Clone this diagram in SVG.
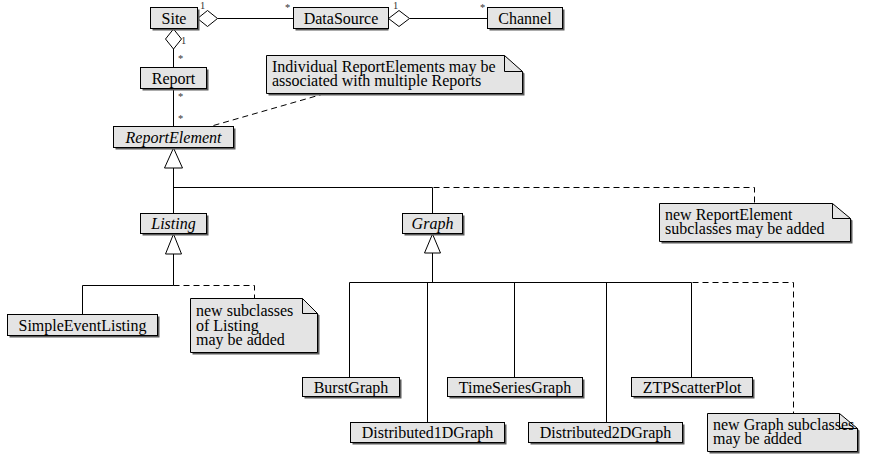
<svg xmlns="http://www.w3.org/2000/svg" width="879" height="455" viewBox="0 0 879 455" font-family="Liberation Serif, Times New Roman, serif">
  <style>
    .box { fill: #e4e4e4; stroke: #000; stroke-width: 1; }
    .shadow { fill: #5a5a5a; }
    .lbl { font-family: 'Liberation Serif', 'Times New Roman', serif; font-size: 16px; fill: #000; }
    .abs { font-style: italic; }
    .mult { font-family: 'Liberation Serif', 'Times New Roman', serif; font-size: 10.5px; fill: #333; }
    .line { fill: none; stroke: #000; stroke-width: 1; }
    .dash { fill: none; stroke: #000; stroke-width: 1; stroke-dasharray: 6 4; }
    .head { fill: #fff; stroke: #000; stroke-width: 1; }
  </style>

  <!-- connectors -->
  <g id="connectors">
    <!-- aggregations -->
    <line class="line" x1="217.5" y1="18.5" x2="293.5" y2="18.5"/>
    <polygon class="head" points="197.5,18.5 207.5,10.5 217.5,18.5 207.5,26.5"/>
    <line class="line" x1="409.5" y1="18.5" x2="487.5" y2="18.5"/>
    <polygon class="head" points="388.5,18.5 399,10.5 409.5,18.5 399,26.5"/>
    <line class="line" x1="173.5" y1="49" x2="173.5" y2="67.5"/>
    <polygon class="head" points="173.5,29 165.5,39 173.5,49 181.5,39"/>
    <line class="line" x1="173.5" y1="88.5" x2="173.5" y2="126.5"/>

    <!-- multiplicities -->
    <text class="mult" x="200" y="9">1</text>
    <text class="mult" x="285" y="11">*</text>
    <text class="mult" x="393" y="9">1</text>
    <text class="mult" x="480" y="11">*</text>
    <text class="mult" x="181" y="44">1</text>
    <text class="mult" x="178" y="62">*</text>
    <text class="mult" x="178" y="100">*</text>
    <text class="mult" x="178" y="122">*</text>

    <!-- ReportElement generalization -->
    <line class="line" x1="173.5" y1="168" x2="173.5" y2="213.5"/>
    <polyline class="line" points="173.5,187.5 432.5,187.5 432.5,213.5"/>
    <polyline class="dash" points="173.5,187.5 754.5,187.5 754.5,203.5"/>
    <polygon class="head" points="173.5,148 164.5,168 182.5,168"/>

    <!-- Listing generalization -->
    <line class="line" x1="173.5" y1="254" x2="173.5" y2="285.5"/>
    <polyline class="line" points="173.5,285.5 82.5,285.5 82.5,314.5"/>
    <polyline class="dash" points="173.5,285.5 254.5,285.5 254.5,298.5"/>
    <polygon class="head" points="173.5,234 165.5,254 181.5,254"/>

    <!-- Graph generalization -->
    <line class="line" x1="432.5" y1="253" x2="432.5" y2="282.5"/>
    <line class="line" x1="349.5" y1="282.5" x2="691.5" y2="282.5"/>
    <line class="line" x1="349.5" y1="282.5" x2="349.5" y2="377.5"/>
    <line class="line" x1="427.5" y1="282.5" x2="427.5" y2="422.5"/>
    <line class="line" x1="514.5" y1="282.5" x2="514.5" y2="377.5"/>
    <line class="line" x1="606.5" y1="282.5" x2="606.5" y2="422.5"/>
    <line class="line" x1="691.5" y1="282.5" x2="691.5" y2="377.5"/>
    <polyline class="dash" points="432.5,282.5 793.5,282.5 793.5,413.5"/>
    <polygon class="head" points="432.5,234 424.5,253 440.5,253"/>

    <!-- note anchor -->
    <line class="dash" x1="325" y1="93.5" x2="210" y2="126.5"/>
  </g>

  <!-- classes -->
  <g id="site">
    <rect class="shadow" x="152.5" y="9.5" width="47" height="21"/>
    <rect class="box" x="150.5" y="7.5" width="47" height="21"/>
    <text class="lbl" x="174" y="24" text-anchor="middle">Site</text>
  </g>
  <g id="datasource">
    <rect class="shadow" x="295.5" y="9.5" width="93" height="21"/>
    <rect class="box" x="293.5" y="7.5" width="95" height="21"/>
    <text class="lbl" x="341" y="24" text-anchor="middle">DataSource</text>
  </g>
  <g id="channel">
    <rect class="shadow" x="489.5" y="9.5" width="75" height="21"/>
    <rect class="box" x="487.5" y="7.5" width="75" height="21"/>
    <text class="lbl" x="525" y="24" text-anchor="middle">Channel</text>
  </g>
  <g id="report">
    <rect class="shadow" x="142.5" y="69.5" width="66" height="21"/>
    <rect class="box" x="140.5" y="67.5" width="66" height="21"/>
    <text class="lbl" x="173.5" y="84" text-anchor="middle">Report</text>
  </g>
  <g id="reportelement">
    <rect class="shadow" x="115.5" y="128.5" width="120" height="21"/>
    <rect class="box" x="113.5" y="126.5" width="120" height="21"/>
    <text class="lbl abs" x="173.5" y="143" text-anchor="middle">ReportElement</text>
  </g>
  <g id="listing">
    <rect class="shadow" x="142.5" y="215.5" width="66" height="20"/>
    <rect class="box" x="140.5" y="213.5" width="66" height="20"/>
    <text class="lbl abs" x="173.5" y="229" text-anchor="middle">Listing</text>
  </g>
  <g id="graph">
    <rect class="shadow" x="404.5" y="215.5" width="60" height="20"/>
    <rect class="box" x="402.5" y="213.5" width="60" height="20"/>
    <text class="lbl abs" x="432.5" y="229" text-anchor="middle">Graph</text>
  </g>
  <g id="simpleeventlisting">
    <rect class="shadow" x="9.5" y="316.5" width="150" height="21"/>
    <rect class="box" x="7.5" y="314.5" width="150" height="21"/>
    <text class="lbl" x="82.5" y="331" text-anchor="middle">SimpleEventListing</text>
  </g>
  <g id="burstgraph">
    <rect class="shadow" x="304.5" y="379.5" width="97" height="19"/>
    <rect class="box" x="302.5" y="377.5" width="97" height="19"/>
    <text class="lbl" x="351" y="393" text-anchor="middle">BurstGraph</text>
  </g>
  <g id="timeseriesgraph">
    <rect class="shadow" x="449.5" y="379.5" width="135" height="19"/>
    <rect class="box" x="447.5" y="377.5" width="135" height="19"/>
    <text class="lbl" x="515" y="393" text-anchor="middle">TimeSeriesGraph</text>
  </g>
  <g id="ztpscatterplot">
    <rect class="shadow" x="633.5" y="379.5" width="121" height="19"/>
    <rect class="box" x="631.5" y="377.5" width="121" height="19"/>
    <text class="lbl" x="692" y="393" text-anchor="middle">ZTPScatterPlot</text>
  </g>
  <g id="distributed1dgraph">
    <rect class="shadow" x="352.5" y="424.5" width="154" height="20"/>
    <rect class="box" x="350.5" y="422.5" width="154" height="20"/>
    <text class="lbl" x="427.5" y="438" text-anchor="middle">Distributed1DGraph</text>
  </g>
  <g id="distributed2dgraph">
    <rect class="shadow" x="530.5" y="424.5" width="154" height="20"/>
    <rect class="box" x="528.5" y="422.5" width="154" height="20"/>
    <text class="lbl" x="605.5" y="438" text-anchor="middle">Distributed2DGraph</text>
  </g>

  <!-- notes -->
  <g id="note-reports">
    <path class="shadow" d="M268.5,57.5 H506.5 L524.5,73.5 V95.5 H268.5 Z"/>
    <path class="box" d="M266.5,55.5 H504.5 L522.5,71.5 V93.5 H266.5 Z"/>
    <path class="line" d="M504.5,55.5 V71.5 H522.5"/>
    <text class="lbl" x="272" y="72">Individual ReportElements may be</text>
    <text class="lbl" x="272" y="86">associated with multiple Reports</text>
  </g>
  <g id="note-reportelement">
    <path class="shadow" d="M661.5,205.5 H834.5 L852.5,220.5 V243.5 H661.5 Z"/>
    <path class="box" d="M659.5,203.5 H832.5 L850.5,218.5 V241.5 H659.5 Z"/>
    <path class="line" d="M832.5,203.5 V218.5 H850.5"/>
    <text class="lbl" x="665" y="220">new ReportElement</text>
    <text class="lbl" x="665" y="234">subclasses may be added</text>
  </g>
  <g id="note-listing">
    <path class="shadow" d="M192.5,300.5 H304.5 L319.5,315.5 V354.5 H192.5 Z"/>
    <path class="box" d="M190.5,298.5 H302.5 L317.5,313.5 V352.5 H190.5 Z"/>
    <path class="line" d="M302.5,298.5 V313.5 H317.5"/>
    <text class="lbl" x="196" y="316">new subclasses</text>
    <text class="lbl" x="196" y="330.5">of Listing</text>
    <text class="lbl" x="196" y="345">may be added</text>
  </g>
  <g id="note-graph">
    <path class="shadow" d="M709.5,415.5 H841.5 L859.5,430.5 V453.5 H709.5 Z"/>
    <path class="box" d="M707.5,413.5 H839.5 L857.5,428.5 V451.5 H707.5 Z"/>
    <path class="line" d="M839.5,413.5 V428.5 H857.5"/>
    <text class="lbl" x="713" y="430">new Graph subclasses</text>
    <text class="lbl" x="713" y="444">may be added</text>
  </g>
</svg>
